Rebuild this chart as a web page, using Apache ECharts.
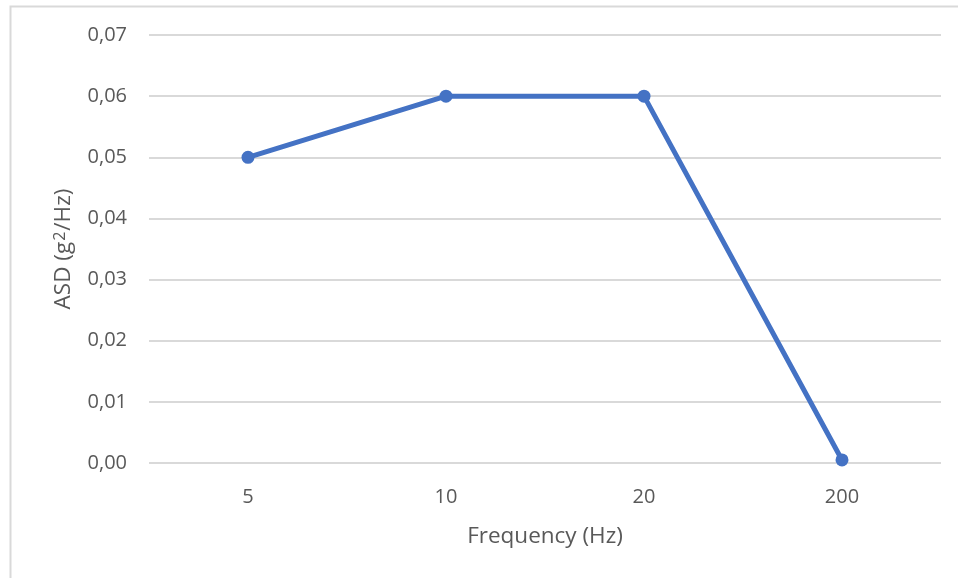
<!DOCTYPE html>
<html>
<head>
<meta charset="utf-8">
<script src="https://cdn.jsdelivr.net/npm/echarts@6/dist/echarts.min.js"></script>
<style>
  html, body { margin: 0; padding: 0; background: #fff; }
  #container { width: 958px; height: 578px; }
</style>
</head>
<body>
<div id="container"></div>
<script>
var frequencies = ["5", "10", "20", "200"];
var asdValues = [0.05, 0.06, 0.06, 0.0005];

var dom = document.getElementById("container");
var myChart = echarts.init(dom);

var option = {
  backgroundColor: "#fff",
  animation: false,
  textStyle: { fontFamily: "Open Sans" },
  // outer chart-area frame (only top and left edges are visible in the crop)
  graphic: [{
    type: "rect",
    shape: { x: 10.5, y: 6.5, width: 1000, height: 1000 },
    style: { fill: "none", stroke: "#d9d9d9", lineWidth: 2 },
    silent: true
  }],
  grid: {
    left: 149,
    right: 17,
    top: 35,
    bottom: 115
  },
  xAxis: {
    type: "category",
    data: frequencies,
    boundaryGap: true,
    name: "Frequency (Hz)",
    nameLocation: "middle",
    nameGap: 62,
    nameTextStyle: { color: "#595959", fontSize: 22.5, fontFamily: "Open Sans" },
    axisLine: { show: false },
    axisTick: { show: false },
    axisLabel: { color: "#595959", fontSize: 20, margin: 24, fontFamily: "Open Sans" }
  },
  yAxis: {
    type: "value",
    min: 0,
    max: 0.07,
    interval: 0.01,
    name: "ASD (g{sup|2}/Hz)",
    nameLocation: "middle",
    nameGap: 73,
    nameTextStyle: {
      color: "#595959",
      fontSize: 22.5,
      fontFamily: "Open Sans",
      rich: {
        sup: { fontSize: 16, color: "#595959", fontFamily: "Open Sans", verticalAlign: "top", padding: [0, 1, 8, 1] }
      }
    },
    axisLine: { show: false },
    axisTick: { show: false },
    axisLabel: {
      color: "#595959",
      fontSize: 20,
      margin: 22,
      fontFamily: "Open Sans",
      formatter: function (v) { return v.toFixed(2).replace(".", ","); }
    },
    splitLine: { lineStyle: { color: "#d9d9d9", width: 2 } }
  },
  series: [{
    type: "line",
    data: asdValues,
    symbol: "circle",
    symbolSize: 13,
    lineStyle: { color: "#4472C4", width: 5 },
    itemStyle: { color: "#4472C4" }
  }]
};

myChart.setOption(option, true);
</script>
</body>
</html>
